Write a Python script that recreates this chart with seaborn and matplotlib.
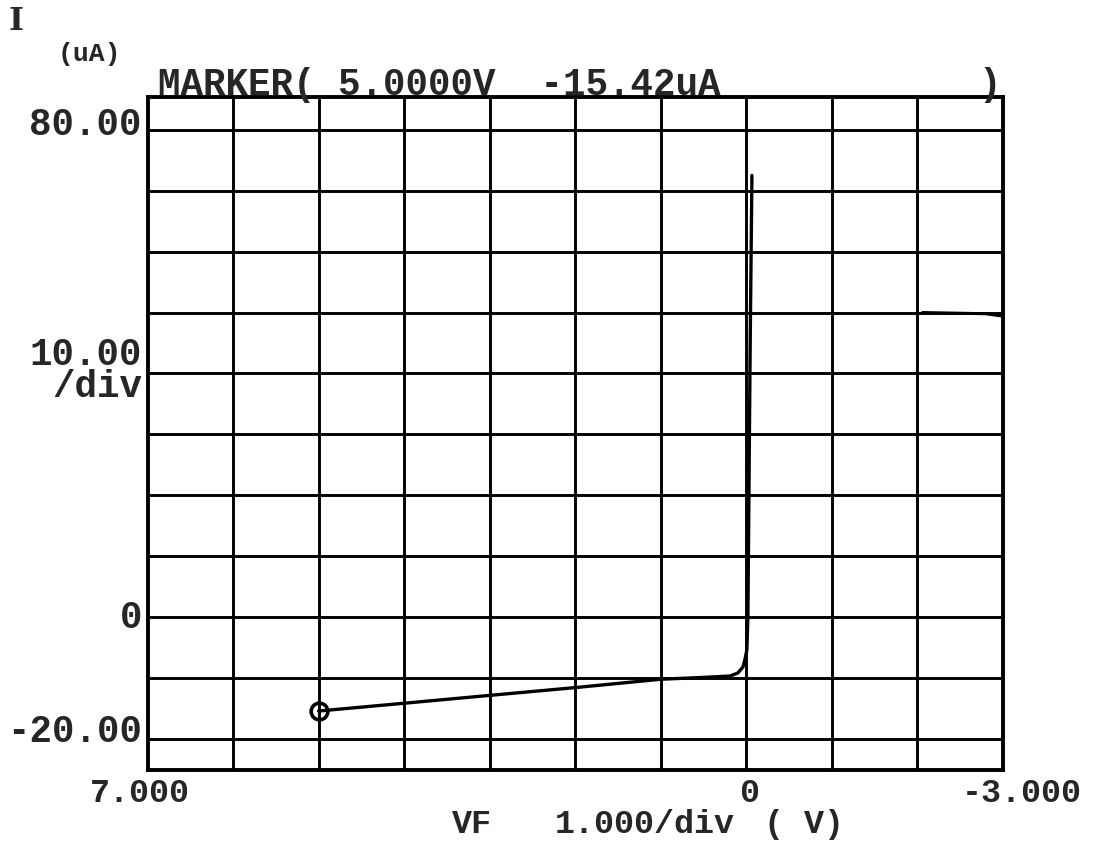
import matplotlib
matplotlib.use("Agg")
import matplotlib.pyplot as plt
import seaborn as sns
import numpy as np

# ---- data ----
vf_main = [5.0, 4.0, 3.0, 2.0, 1.0, 0.5, 0.19, 0.10, 0.04, 0.018, -0.006, -0.018, -0.03, -0.045, -0.065]
i_main = [-15.42, -14.14, -12.85, -11.57, -10.2, -9.9, -9.67, -9.18, -8.2, -7.05, -5.4, 0.0, 20.0, 45.0, 72.5]
vf_right = [-2.06, -2.8, -2.9, -3.0]
i_right = [50.0, 49.8, 49.6, 49.4]
marker_v = 5.0
marker_i = -15.42
x_ticks = [7, 6, 5, 4, 3, 2, 1, 0, -1, -2, -3]
y_ticks = [-20, -10, 0, 10, 20, 30, 40, 50, 60, 70, 80]
y_tick_labels = {80: "80.00", 0: "0", -20: "-20.00"}
x_tick_labels = {7: "7.000", 0: "0", -3: "-3.000"}

sns.set_style("white")
plt.rcParams['font.family'] = ['Liberation Mono', 'DejaVu Sans']
plt.rcParams['font.weight'] = 'bold'

W, H = 1094, 843
fig = plt.figure(figsize=(W / 100, H / 100), dpi=100)
fig.patch.set_facecolor("white")
L, R, T, B = 147.5, 1003, 97.5, 770
ax = fig.add_axes([L / W, 1 - B / H, (R - L) / W, (B - T) / H])
ax.set_xlim(7, -3)
ax.set_ylim(-25.1, 85.3)

for v in x_ticks[1:-1]:
    ax.axvline(v, color="black", lw=2.1, zorder=1)
for v in y_ticks:
    ax.axhline(v, color="black", lw=2.1, zorder=1)
for s in ax.spines.values():
    s.set_linewidth(2.8)
    s.set_color("black")
ax.set_xticks([])
ax.set_yticks([])

sns.lineplot(x=vf_main, y=i_main, sort=False, estimator=None, color="black",
             lw=2.4, ax=ax, zorder=3)
sns.lineplot(x=vf_right, y=i_right, sort=False, estimator=None, color="black",
             lw=2.2, ax=ax, zorder=3)
sns.lineplot(x=[marker_v], y=[marker_i], marker="o", markersize=12,
             markerfacecolor="none", markeredgecolor="black", markeredgewidth=2.6,
             lw=0, ax=ax, zorder=4)

def ftext(x, y, s, **kw):
    fig.text(x / W, 1 - y / H, s, **kw)

FS = 27
FSX = 24
ftext(16, 21, "I", family="DejaVu Serif", fontweight="bold", fontsize=23, ha="center", va="center")
ftext(58, 61, "(uA)", fontsize=19, ha="left", va="baseline")
marker_str = f"MARKER( {marker_v:.4f}V  {marker_i:.2f}uA"
ftext(158, 95, marker_str, fontsize=FS, ha="left", va="baseline")
ftext(1001, 95, ")", fontsize=FS, ha="right", va="baseline")

# y labels
y_base = {80: 135, 0: 628, -20: 742}
for v, lab in y_tick_labels.items():
    ftext(142, y_base[v], lab, fontsize=FS, ha="right", va="baseline")
ftext(142, 397, "10.00\n/div", fontsize=FS, ha="right", va="baseline",
      multialignment="right", linespacing=0.86)

# x labels
ftext(190, 802, x_tick_labels[7], fontsize=FSX, ha="right", va="baseline")
ftext(749, 802, x_tick_labels[0], fontsize=FSX, ha="center", va="baseline")
ftext(1022, 802, x_tick_labels[-3], fontsize=FSX, ha="center", va="baseline")
ftext(472, 833, "VF", fontsize=FSX, ha="center", va="baseline")
ftext(645, 833, "1.000/div", fontsize=FSX, ha="center", va="baseline")
ftext(804, 833, "( V)", fontsize=FSX, ha="center", va="baseline")

fig.savefig("out.png", dpi=100, facecolor="white")
